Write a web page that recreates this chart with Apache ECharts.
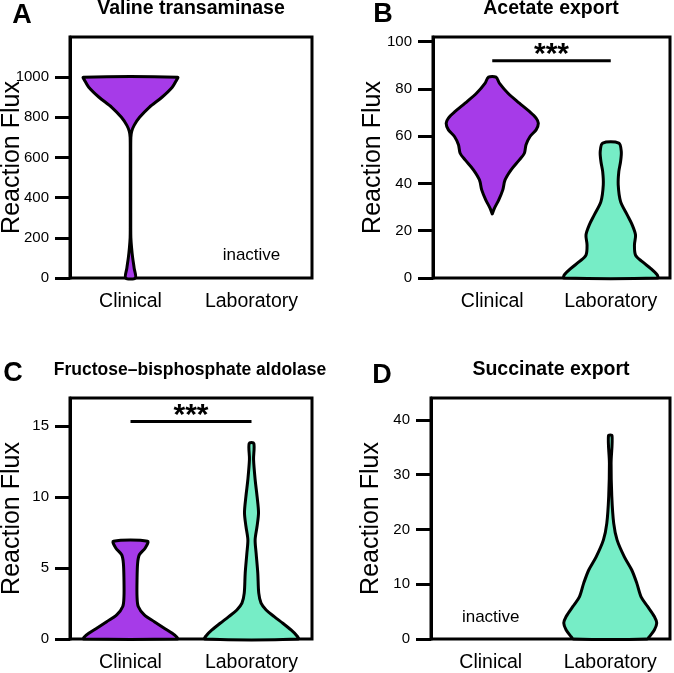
<!DOCTYPE html>
<html>
<head>
<meta charset="utf-8">
<script src="https://cdn.jsdelivr.net/npm/echarts@6/dist/echarts.min.js"></script>
<style>
  html, body { margin: 0; padding: 0; background: #fff; }
  #chart { width: 674px; height: 673px; }
</style>
</head>
<body>
<div id="chart"></div>
<script>
// data: [flux, half width as a fraction of the category band]
const categories = ['Clinical', 'Laboratory'];
const panelTitles = ['Valine transaminase', 'Acetate export', 'Fructose\u2013bisphosphate aldolase', 'Succinate export'];
const panelLetters = ['A', 'B', 'C', 'D'];
const yMax = [1200, 102, 17, 44];
const yTicks = [
  [0, 200, 400, 600, 800, 1000],
  [0, 20, 40, 60, 80, 100],
  [0, 5, 10, 15],
  [0, 10, 20, 30, 40]
];
const sigLevel = [null, 92, 15.35, null];
const inactiveAt = [[1, 115], null, null, [0, 4]];

const valineClinical = [
  [0, 0.04], [50, 0.03], [100, 0.018], [150, 0.009], [200, 0.003], [250, 0.002], [400, 0.002],
  [600, 0.002], [700, 0.003], [730, 0.01], [760, 0.03], [800, 0.075], [850, 0.155],
  [900, 0.26], [950, 0.345], [985, 0.38], [1000, 0.39]
];
const acetateClinical = [
  [27.1, 0], [29.5, 0.018], [33.1, 0.055], [37.3, 0.089], [41.5, 0.108], [45.8, 0.159],
  [50, 0.229], [52.8, 0.271], [56.4, 0.285], [59.9, 0.319], [62.7, 0.37], [65.5, 0.389],
  [67.7, 0.37], [70.5, 0.313], [74, 0.229], [78.3, 0.131], [82.5, 0.06], [85, 0.032]
];
const acetateLab = [
  [0, 0.395], [1.3, 0.392], [4.1, 0.336], [6.9, 0.266], [9.7, 0.209], [14, 0.2], [18.2, 0.209],
  [22.5, 0.181], [26.7, 0.139], [32.3, 0.083], [39.4, 0.063], [45, 0.068], [49.3, 0.083],
  [53.5, 0.089], [57.1, 0.068]
];
const fbaClinical = [
  [0, 0.387], [0.12, 0.384], [0.4, 0.345], [0.76, 0.279], [1.22, 0.197], [1.7, 0.114],
  [2.29, 0.064], [2.99, 0.054], [4.18, 0.054], [5.36, 0.059], [5.94, 0.073], [6.42, 0.122], [6.89, 0.141]
];
const fbaLab = [
  [0, 0.387], [0.28, 0.369], [0.64, 0.327], [1.11, 0.259], [1.58, 0.188], [2.05, 0.121],
  [2.53, 0.079], [3.23, 0.06], [4.65, 0.052], [6.07, 0.038], [7, 0.03], [7.95, 0.046],
  [8.9, 0.058], [10.07, 0.046], [11.25, 0.03], [12.67, 0.017], [13.8, 0.019]
];
const succinateLab = [
  [0, 0.308], [0.42, 0.327], [1.64, 0.369], [2.9, 0.389], [4.1, 0.369], [5.9, 0.314],
  [7.7, 0.258], [10.2, 0.222], [12.6, 0.18], [15, 0.118], [18.1, 0.057], [21.1, 0.029],
  [26, 0.013], [32.1, 0.007], [37.1, 0.015]
];

// panel index, category index, profile
const violins = [
  [0, 0, valineClinical],
  [1, 0, acetateClinical],
  [1, 1, acetateLab],
  [2, 0, fbaClinical],
  [2, 1, fbaLab],
  [3, 1, succinateLab]
];

const FONT = '"Liberation Sans", Arial, Helvetica, sans-serif';
const colors = ['#A63BE8', '#76EDC6'];
const grids = [
  { left: 70, top: 37, width: 242, height: 241 },
  { left: 433, top: 37, width: 237, height: 241 },
  { left: 70, top: 398, width: 242, height: 241 },
  { left: 431, top: 398, width: 239, height: 241 }
];
const titlePos = [[191, 9], [551, 9], [190, 370], [551, 370]];
const titleSize = [19.5, 19.5, 17.5, 19.5];
const letterPos = [[22, 16], [383, 15], [13, 374], [382, 376]];

function violinRender(profile, color) {
  return function (params, api) {
    const cat = api.value(0);
    const cx = api.coord([cat, 0])[0];
    const band = api.size([1, 0])[0];
    const right = profile.map(p => [cx + p[1] * band, api.coord([cat, p[0]])[1]]);
    const left = profile.slice().reverse().map(p => [cx - p[1] * band, api.coord([cat, p[0]])[1]]);
    return {
      type: 'polygon',
      shape: { points: right.concat(left), smooth: 0.3 },
      style: { fill: color, stroke: '#000', lineWidth: 3, lineJoin: 'round' }
    };
  };
}

const series = [];
violins.forEach(([panel, cat, profile]) => {
  series.push({
    type: 'custom',
    xAxisIndex: panel,
    yAxisIndex: panel,
    data: [[cat, 0]],
    encode: { x: 0, y: 1 },
    silent: true,
    renderItem: violinRender(profile, colors[cat])
  });
});

sigLevel.forEach((lvl, i) => {
  if (lvl == null) return;
  series.push({
    type: 'custom',
    xAxisIndex: i,
    yAxisIndex: i,
    data: [[0, lvl]],
    encode: { x: 0, y: 1 },
    silent: true,
    renderItem: (params, api) => {
      const p0 = api.coord([0, api.value(1)]);
      const p1 = api.coord([1, api.value(1)]);
      return {
        type: 'group',
        children: [
          { type: 'line', shape: { x1: p0[0], y1: p0[1], x2: p1[0], y2: p1[1] }, style: { stroke: '#000', lineWidth: 3 } },
          {
            type: 'text', x: (p0[0] + p1[0]) / 2, y: p0[1] - 6,
            style: { text: '***', fontSize: 30, fontWeight: 'bold', fontFamily: FONT, fill: '#000', align: 'center', verticalAlign: 'middle' }
          }
        ]
      };
    }
  });
});

inactiveAt.forEach((pos, i) => {
  if (!pos) return;
  series.push({
    type: 'custom',
    xAxisIndex: i,
    yAxisIndex: i,
    data: [pos],
    encode: { x: 0, y: 1 },
    silent: true,
    renderItem: (params, api) => {
      const p = api.coord([api.value(0), api.value(1)]);
      return {
        type: 'text', x: p[0], y: p[1],
        style: { text: 'inactive', fontSize: 17, fontFamily: FONT, fill: '#000', align: 'center', verticalAlign: 'middle' }
      };
    }
  });
});

const graphic = [];
panelTitles.forEach((t, i) => {
  graphic.push({
    type: 'text', x: titlePos[i][0], y: titlePos[i][1],
    style: { text: t, fontSize: titleSize[i], fontWeight: 'bold', fontFamily: FONT, fill: '#000', align: 'center', verticalAlign: 'middle' }
  });
  graphic.push({
    type: 'text', x: letterPos[i][0], y: letterPos[i][1],
    style: { text: panelLetters[i], fontSize: 27, fontWeight: 'bold', fontFamily: FONT, fill: '#000', align: 'center', verticalAlign: 'middle' }
  });
});

const chart = echarts.init(document.getElementById('chart'));
chart.setOption({
  animation: false,
  backgroundColor: '#fff',
  textStyle: { fontFamily: FONT },
  grid: grids.map(g => Object.assign({
    show: true, borderColor: '#000', borderWidth: 3, backgroundColor: 'transparent',
    containLabel: false, outerBoundsMode: 'none'
  }, g)),
  xAxis: grids.map((g, i) => ({
    type: 'category',
    gridIndex: i,
    data: categories,
    axisLine: { show: false },
    axisTick: { show: false },
    axisLabel: { interval: 0, fontSize: 19.5, color: '#000', margin: 14, fontFamily: FONT }
  })),
  yAxis: grids.map((g, i) => ({
    type: 'value',
    gridIndex: i,
    min: 0,
    max: yMax[i],
    splitLine: { show: false },
    axisLine: { show: true, lineStyle: { color: '#000', width: 3 } },
    axisTick: { show: true, length: 15, lineStyle: { color: '#000', width: 3 }, customValues: yTicks[i] },
    axisLabel: { fontSize: 15, color: '#000', margin: 21, fontFamily: FONT, customValues: yTicks[i], formatter: v => String(v) },
    name: 'Reaction Flux',
    nameLocation: 'middle',
    nameGap: i % 2 ? 47 : 45,
    nameMoveOverlap: false,
    nameTextStyle: { fontSize: 25, color: '#000', fontFamily: FONT }
  })),
  graphic: graphic,
  series: series
});
</script>
</body>
</html>
